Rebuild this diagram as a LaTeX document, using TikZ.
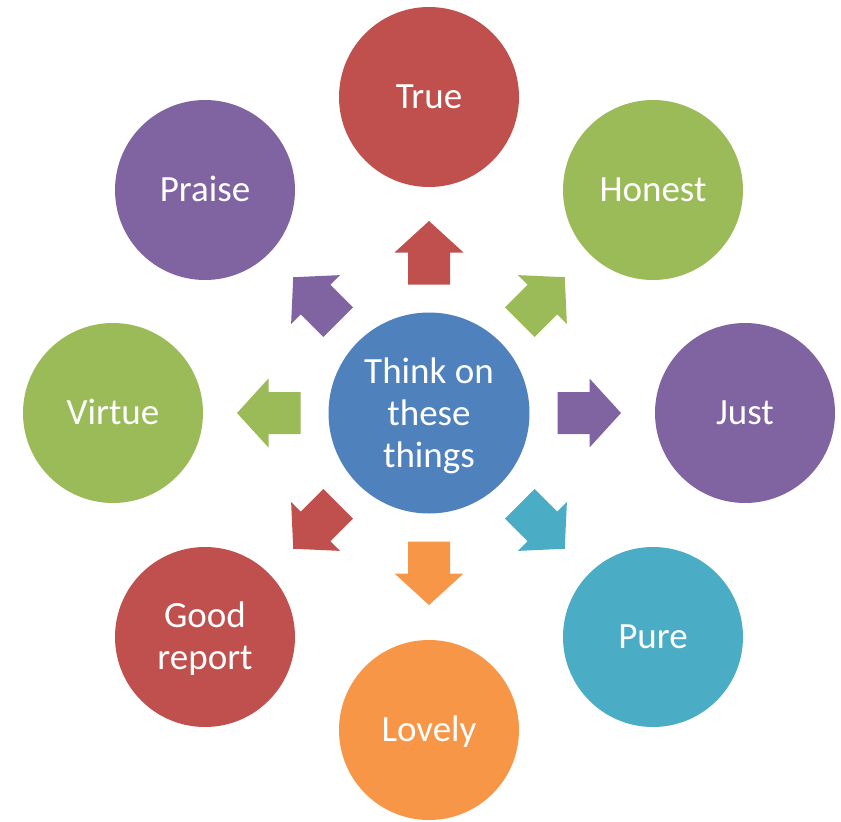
\documentclass[tikz,border=0pt]{standalone}
\usepackage{fontspec}
\setmainfont{Carlito}
\definecolor{cred}{HTML}{C0504D}
\definecolor{cgreen}{HTML}{9BBB59}
\definecolor{cpurple}{HTML}{8064A2}
\definecolor{caqua}{HTML}{4BACC6}
\definecolor{corange}{HTML}{F79646}
\definecolor{cblue}{HTML}{4F81BD}
\tikzset{
  bubble/.style={circle, minimum size=180pt, inner sep=0pt, text=white, align=center,
    font=\fontsize{37}{42}\selectfont, text height=23.4pt, text depth=0pt},
  hub/.style={circle, minimum size=201pt, inner sep=0pt},
  multiline/.style={text=white, align=center, font=\fontsize{37}{42}\selectfont},
}
\newcommand{\blockarrow}[2]{%
  \begin{scope}[shift={(hub.center)}, rotate=#1]
    \fill[#2] (128.5,-21) -- (160.5,-21) -- (160.5,-34.5) -- (192,0) -- (160.5,34.5) -- (160.5,21) -- (128.5,21) -- cycle;
  \end{scope}}
\begin{document}
\begin{tikzpicture}[x=1pt,y=-1pt]
\useasboundingbox (0,0) rectangle (841,822);
\node[hub, fill=cblue] (hub) at (429,413) {};
\node[multiline] (hubtext) at (429,416) {Think on\\these\\things};
\node[bubble, fill=cred] (true) at (429,97) {True};
\node[bubble, fill=cgreen] (honest) at (653,190) {Honest};
\node[bubble, fill=cpurple] (just) at (745,413) {Just};
\node[bubble, fill=caqua] (pure) at (653,637) {Pure};
\node[bubble, fill=corange] (lovely) at (429,730) {Lovely};
\node[hub, minimum size=180pt, fill=cred] (good) at (205,637) {};
\node[multiline] (goodtext) at (205,639) {Good\\report};
\node[bubble, fill=cgreen] (virtue) at (113,413) {Virtue};
\node[bubble, fill=cpurple] (praise) at (205,190) {Praise};
\blockarrow{90}{cred}
\blockarrow{45}{cgreen}
\blockarrow{0}{cpurple}
\blockarrow{-45}{caqua}
\blockarrow{-90}{corange}
\blockarrow{-135}{cred}
\blockarrow{180}{cgreen}
\blockarrow{135}{cpurple}
\end{tikzpicture}
\end{document}
